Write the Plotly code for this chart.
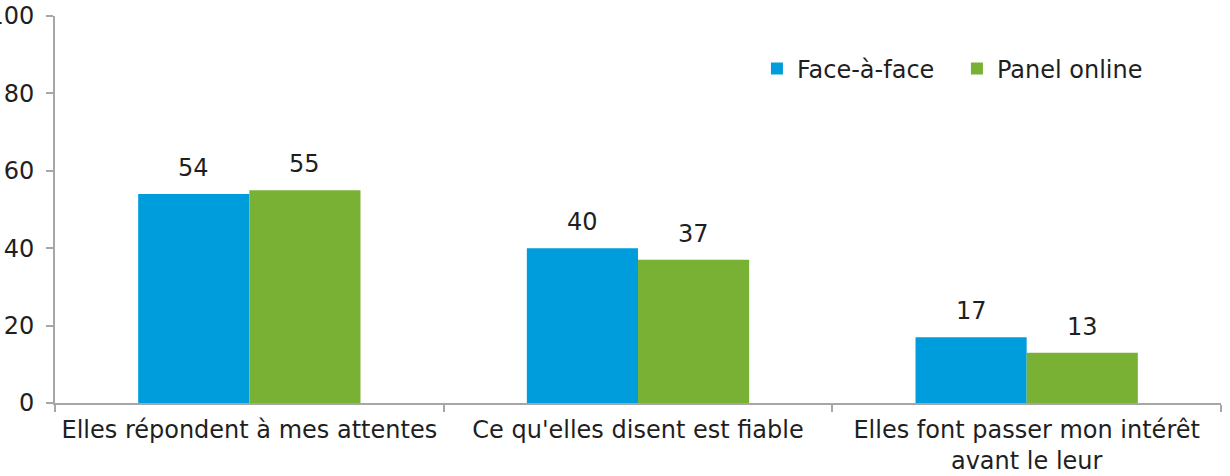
import plotly.graph_objects as go

categories = ["Elles répondent à mes attentes",
              "Ce qu'elles disent est fiable",
              "Elles font passer mon intérêt<br>avant le leur"]
face_a_face = [54, 40, 17]
panel_online = [55, 37, 13]
series_names = ["Face-à-face", "Panel online"]
y_ticks = [0, 20, 40, 60, 80, 100]

BLUE = "#009DDC"
GREEN = "#78B134"
FONT = "DejaVu Sans"
FS = 24
TXT = "#1f1f1f"
AX = "#A6A6A6"

fig = go.Figure()
fig.add_trace(go.Bar(x=categories, y=face_a_face, name=series_names[0],
                     marker=dict(color=BLUE, line=dict(width=0))))
fig.add_trace(go.Bar(x=categories, y=panel_online, name=series_names[1],
                     marker=dict(color=GREEN, line=dict(width=0))))

bargap = 0.428
w = (1 - bargap) / 2
for i, (a, b) in enumerate(zip(face_a_face, panel_online)):
    for xv, yv in ((i - w / 2, a), (i + w / 2, b)):
        fig.add_annotation(x=xv, y=yv, xref="x", yref="y", text=str(yv),
                           showarrow=False, yanchor="middle", yshift=26,
                           font=dict(family=FONT, size=FS, color=TXT))

fig.update_layout(
    width=1230, height=476,
    margin=dict(l=55, r=9, t=16, b=73, autoexpand=False),
    paper_bgcolor="white", plot_bgcolor="white",
    barmode="group", bargap=bargap, bargroupgap=0,
    font=dict(family=FONT, size=FS, color=TXT),
    showlegend=True,
    legend=dict(orientation="h", x=0.602, xanchor="left", y=0.863, yanchor="middle",
                entrywidth=155,
                font=dict(family=FONT, size=FS, color=TXT),
                bgcolor="rgba(0,0,0,0)", itemclick=False, traceorder="normal"),
)
fig.update_xaxes(showgrid=False, zeroline=False, showline=True, linecolor=AX, linewidth=2,
                 ticks="outside", tickson="boundaries", ticklen=7, tickcolor=AX, tickwidth=2,
                 ticklabelstandoff=4, automargin=False,
                 tickfont=dict(family=FONT, size=FS, color=TXT))
fig.update_yaxes(range=[0, 100], tickvals=y_ticks, showgrid=False, zeroline=False,
                 showline=True, linecolor=AX, linewidth=2,
                 ticks="outside", ticklen=7, tickcolor=AX, tickwidth=2,
                 ticklabelstandoff=7, automargin=False,
                 tickfont=dict(family=FONT, size=FS, color=TXT))

fig.write_html("out.html")
